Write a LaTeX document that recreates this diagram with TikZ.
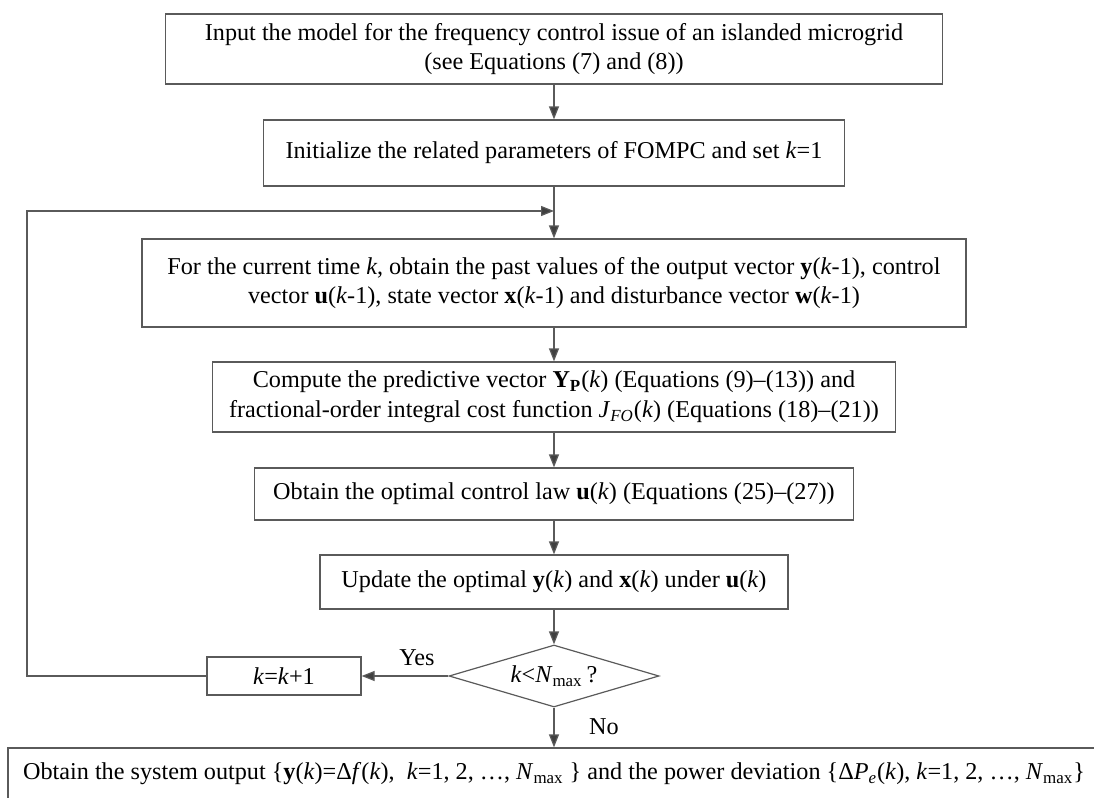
\documentclass[tikz,border=0pt]{standalone}
\usepackage{fontspec}
\setmainfont{Liberation Serif}
\usetikzlibrary{arrows.meta,shapes.geometric}
\definecolor{linegray}{HTML}{5A5A5A}
\definecolor{headgray}{HTML}{404040}
\tikzset{
  txt/.style={font=\fontsize{12.1}{14.8}\selectfont},
  flowbox/.style={txt, draw=linegray, line width=0.6pt, inner sep=0pt, align=center},
  decision/.style={txt, diamond, draw=linegray, line width=0.6pt, inner sep=0pt, aspect=3.4},
  label/.style={txt, inner sep=0pt},
  conn/.style={draw=linegray, line width=0.6pt},
  arr/.style={conn, -{Triangle[length=6.5pt,width=5pt,fill=headgray]}},
}
\newcommand{\kk}{\textit{k}}
\begin{document}
\begin{tikzpicture}[x=0.5pt,y=-0.5pt]
  \useasboundingbox (0,0) rectangle (1094,798);
  \clip (0,0) rectangle (1094,798);

  \node[flowbox, minimum width=388.5pt, minimum height=35pt] (b1) at (554,49)
    {Input the model for the frequency control issue of an islanded microgrid\\(see Equations (7) and (8))};
  \node[flowbox, minimum width=290.5pt, minimum height=33pt] (b2) at (554,153)
    {Initialize the related parameters of FOMPC and set \kk=1};
  \node[flowbox, minimum width=412pt, minimum height=44pt] (b3) at (554,283)
    {For the current time \kk, obtain the past values of the output vector \textbf{y}(\kk-1), control\\
     vector \textbf{u}(\kk-1), state vector \textbf{x}(\kk-1) and disturbance vector \textbf{w}(\kk-1)};
  \node[flowbox, minimum width=341.5pt, minimum height=35pt] (b4) at (554,397)
    {Compute the predictive vector \textbf{Y}\textsubscript{\textbf{P}}(\kk) (Equations (9)–(13)) and\\
     fractional-order integral cost function \textit{J}\textsubscript{\textit{FO}}(\kk) (Equations (18)–(21))};
  \node[flowbox, minimum width=299.5pt, minimum height=26pt] (b5) at (554,494)
    {Obtain the optimal control law \textbf{u}(\kk) (Equations (25)–(27))};
  \node[flowbox, minimum width=234pt, minimum height=27pt] (b6) at (554,582)
    {Update the optimal \textbf{y}(\kk) and \textbf{x}(\kk) under \textbf{u}(\kk)};
  \node[decision, minimum width=105pt, minimum height=31pt] (d) at (554,676)
    {\kk<\textit{N}\textsubscript{max}\,?};
  \node[flowbox, minimum width=77pt, minimum height=19pt] (inc) at (284,676)
    {\kk=\kk+1};
  \node[flowbox, minimum width=546pt, minimum height=26pt] (out) at (554,774)
    {Obtain the system output \{\textbf{y}(\kk)=Δ\textit{f}(\kk),\ \ \kk=1, 2, …, \textit{N}\textsubscript{max} \} and the power deviation \{Δ\textit{P}\textsubscript{\textit{e}}(\kk), \kk=1, 2, …, \textit{N}\textsubscript{max}\}};

  \node[label] (yes) at (417,658) {Yes};
  \node[label] (no) at (604,727) {No};

  \coordinate (join) at (554,211);
  \coordinate (lb) at (27,676);
  \coordinate (lt) at (27,211);

  \draw[arr] (b1.south) -- (b2.north);
  \draw[arr] (b2.south) -- (b3.north);
  \draw[arr] (b3.south) -- (b4.north);
  \draw[arr] (b4.south) -- (b5.north);
  \draw[arr] (b5.south) -- (b6.north);
  \draw[arr] (b6.south) -- (d.north);
  \draw[arr] (d.west) -- (inc.east);
  \draw[arr] (d.south) -- (out.north);
  \draw[arr] (inc.west) -- (lb) -- (lt) -- (join);
\end{tikzpicture}
\end{document}
